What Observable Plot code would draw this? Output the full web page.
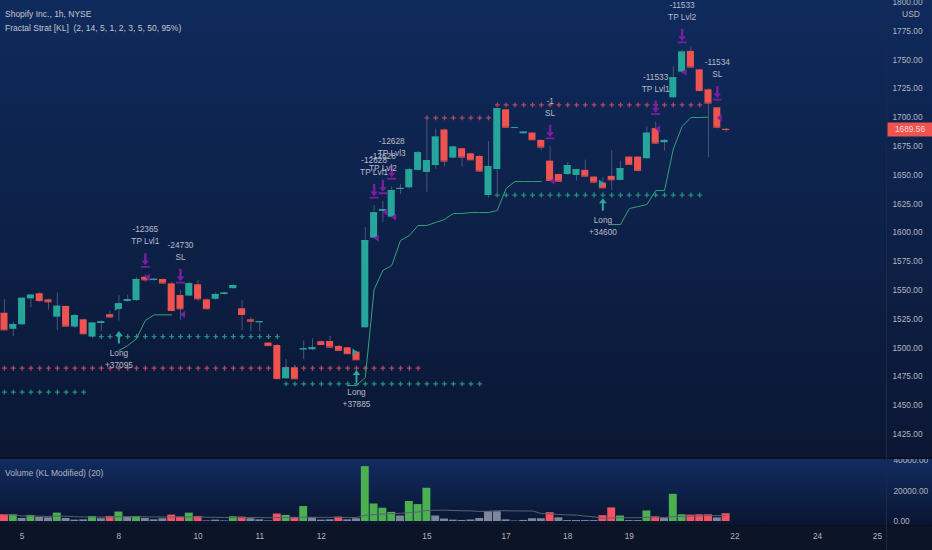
<!DOCTYPE html>
<html><head><meta charset="utf-8">
<script src="https://cdn.jsdelivr.net/npm/d3@7"></script>
<script src="https://cdn.jsdelivr.net/npm/@observablehq/plot@0.6"></script>
<style>
html,body{margin:0;padding:0;background:#0c1428;}
#wrap{position:relative;width:932px;height:550px;overflow:hidden;font-family:"Liberation Sans",Arial,sans-serif;}
.bg{position:absolute;left:0;width:932px;}
.lbl{position:absolute;white-space:pre;transform:translateY(-50%);font-size:8.5px;color:#c3c6cf;line-height:1;}
#wrap svg{position:absolute;left:0;}
</style></head>
<body><div id="wrap">
<div class="bg" style="top:0;height:457px;background:linear-gradient(#0f2a5c,#0b1734);"></div>
<div class="bg" style="top:457px;height:2px;background:#0a101e;"></div>
<div class="bg" style="top:459px;height:66px;background:linear-gradient(#112c61,#0a1530);"></div>
<div class="bg" style="top:525px;height:1px;background:#0a0f1c;"></div>
<div class="bg" style="top:526px;height:24px;background:#0c1428;"></div>
<div style="position:absolute;left:886px;top:0;width:1px;height:550px;background:#1b2848;"></div>
<div class="lbl" style="left:5px;top:13.5px;">Shopify Inc., 1h, NYSE</div>
<div class="lbl" style="left:5px;top:27.5px;">Fractal Strat [KL]  (2, 14, 5, 1, 2, 3, 5, 50, 95%)</div>
<div class="lbl" style="left:5px;top:473px;color:#b2b5be;">Volume (KL Modified) (20)</div>
<div style="position:absolute;left:898px;top:7px;width:22px;height:13px;background:#13295a;"></div>
<div class="lbl" style="left:902px;top:13.5px;color:#b2b5be;">USD</div>
</div>
<script>
// ---- Data ----
const open  = [1530.1,1516.2,1520.1,1542.6,1547.0,1541.7,1526.7,1536.0,1518.1,1524.4,1509.4,1521.2,1528.8,1533.4,1540.3,1541.1,1561.4,1558.6,1559.4,1555.6,1545.5,1545.0,1554.8,1541.7,1542.2,1546.4,1551.4,1534.0,1524.4,1521.9,1504.2,1502.1,1473.2,1482.7,1498.3,1498.4,1505.4,1505.6,1501.3,1500.1,1496.4,1517.5,1595.3,1618.5,1613.5,1637.5,1639.0,1654.1,1652.3,1658.3,1689.2,1664.8,1672.9,1668.5,1666.2,1632.3,1654.9,1706.7,1691.0,1685.9,1686.5,1680.1,1662.1,1650.5,1650.5,1649.7,1654.1,1648.3,1643.1,1648.9,1645.4,1665.6,1665.6,1664.2,1690.3,1678.1,1717.1,1739.4,1757.4,1741.3,1724.0,1708.4,1689.8];
const high  = [1542,1522.3,1543.5,1546.2,1548,1542.3,1547.6,1536.5,1529,1525,1522,1523.7,1532,1545.5,1546,1560.9,1563.5,1560,1560,1557,1549.8,1557,1558.8,1542.5,1548,1548,1555,1541,1526.5,1523.3,1504.5,1503,1490,1485,1506,1508,1506,1510,1502,1500.5,1497,1604.3,1623.6,1627.4,1640,1642,1656,1670.5,1700.9,1690,1690,1675,1673.5,1669,1667,1679,1708,1707,1691.6,1687.8,1687,1680.5,1675,1651,1661,1655,1663,1649,1648,1671.4,1662,1666,1666,1692,1696,1681,1744.3,1758.3,1761.6,1742,1725,1708.7,1690.5];
const low   = [1515.5,1509.9,1519.5,1534.8,1539.5,1533,1515,1518.5,1517,1511,1508,1514,1526,1523.3,1539.5,1540.5,1557,1557.8,1555.8,1532,1524,1544.5,1540,1533.5,1541.5,1546,1551,1515,1514,1514,1501.5,1473,1473,1473,1489.7,1497.5,1502.5,1500.5,1497.5,1494.5,1489.5,1517,1594.5,1609,1613,1633,1638,1653.5,1635.2,1655,1657,1664,1657,1662.5,1653,1630,1631.4,1691,1690.6,1685.5,1680.3,1671,1645,1644.3,1650,1645,1648.5,1643.5,1638.5,1636.7,1645,1659,1653.5,1663.5,1677,1671,1716.5,1738,1743,1723,1665,1690,1687];
const close = [1515.7,1520.3,1543.1,1545.8,1541.1,1540.0,1536.2,1518.9,1528.1,1512.3,1521.5,1522.6,1526.8,1538.3,1541.8,1559.4,1559.1,1559.6,1556.3,1532.5,1534.0,1555.7,1542.6,1534.0,1546.4,1547.6,1554.2,1529.0,1523.2,1522.8,1502.0,1473.3,1482.7,1473.2,1499.2,1500.1,1503.0,1500.7,1497.9,1495.0,1489.7,1593.2,1617.3,1620.0,1636.6,1638.5,1654.6,1669.4,1662.7,1683.0,1662.2,1674.3,1665.6,1663.3,1653.5,1657.5,1707.6,1691.6,1691.3,1687.3,1680.7,1674.3,1645.4,1644.7,1658.3,1654.7,1649.1,1643.9,1639.0,1646.0,1655.6,1659.3,1654.1,1686.4,1677.8,1680.1,1734.5,1756.8,1743.8,1723.4,1712.5,1691.6,1689.56];
const volume = [4400,4400,2000,4000,2700,2400,5500,2000,900,1100,3300,1800,3300,6200,2900,3300,2000,1100,1800,4200,2900,5500,3300,400,900,400,3100,2900,1800,1100,400,4900,4000,2700,9800,2400,900,1100,2900,1100,1800,36000,11500,8700,6000,3600,13100,11100,21800,3600,1600,900,700,1000,2000,6400,6400,1100,300,700,1800,1800,5800,2400,600,600,600,600,3800,8900,3600,600,600,6900,3100,2000,17800,4400,4200,4400,4400,2400,5100];
const volumeKind = ["r","g","n","g","n","n","g","n","n","n","g","n","r","g","n","g","n","n","n","r","r","g","r","n","n","n","g","r","n","n","n","r","g","r","g","n","n","n","r","n","n","g","g","g","g","n","g","g","g","n","n","n","n","n","n","n","n","n","n","n","n","n","r","n","n","n","n","n","r","r","g","n","n","g","r","n","g","g","r","r","r","n","r"];

const priceTicks = [1425,1450,1475,1500,1525,1550,1575,1600,1625,1650,1675,1700,1725,1750,1775,1800];
const volumeTicks = [0,20000,40000];
const dayTickIndex = [2,13,22,29,36,48,57,64,71,83,92.4,99.2];
const dayTickLabels = ["5","8","10","11","12","15","17","18","19","22","24","25"];

// fractal levels (price, first bar, last bar)
const resPrice = [1482.4,1699.7,1711.0];
const resFrom  = [0,48,56];
const resTo    = [47,55,79];
const supPrice = [1461.6,1509.9,1468.8,1632.7];
const supFrom  = [0,11,32,56];
const supTo    = [9,31,54,79];

// trailing stop segments
const stop1Start = 13, stop1 = [1497.7,1502,1508,1523.8,1528.7,1528.7,1528.7];
const stop2Start = 39, stop2 = [1467.4,1467.4,1474.3,1550.7,1567.2,1571.5,1593.2,1597.6,1606.3,1606.3,1608.9,1611.5,1616.7,1616.7,1617.5,1617.5,1617.5,1619.3,1638.4,1644.4,1644.4,1644.4,1644.4];
const stop3Start = 69, stop3 = [1607.1,1607.1,1621,1622.7,1624.5,1636.6,1636.6,1672.7,1692.2,1700,1700,1700.3];

// orders
const entryIdx = [13,40,68];
const entryQty = ["+37095","+37885","+34600"];
const entryFill = [1535.4,1496.4,1643.0];
const exitIdx = [16,20,42,43,44,62,74,77,81];
const exitQty = ["-12365","-24730","-12628","-12628","-12628","-1","-11533","-11533","-11534"];
const exitLabel = ["TP Lvl1","SL","TP Lvl1","TP Lvl2","TP Lvl3","SL","TP Lvl1","TP Lvl2","SL"];
const exitFill = [1561.4,1529.0,1595.2,1617.9,1613.5,1644.7,1690.2,1739.4,1699.7];

// ---- Build ----
const teal = "#26a69a", red = "#ef5350", wick = "#4a5575", purple = "#7a1ea1";
const font = '"Liberation Sans", Arial, sans-serif';
const xDomain = [-0.4545, 100.2273];
const candles = open.map((o,i)=>({i, o, h: high[i], l: low[i], c: close[i], col: close[i] >= o ? teal : red}));
const levelDots = [];
resPrice.forEach((p,k)=>{ for(let i=resFrom[k];i<=resTo[k];i++) levelDots.push({i,p,col:"#b4475d"}); });
supPrice.forEach((p,k)=>{ for(let i=supFrom[k];i<=supTo[k];i++) levelDots.push({i,p,col:"#22907f"}); });
const stopPts = [];
[[stop1Start,stop1],[stop2Start,stop2],[stop3Start,stop3]].forEach(([s,arr],seg)=>arr.forEach((p,k)=>stopPts.push({i:s+k,p,seg})));
const entries = entryIdx.map((i,k)=>({i, l: low[i], qty: entryQty[k], fill: entryFill[k]}));
const exits = exitIdx.map((i,k)=>({i, h: high[i], qty: exitQty[k], label: exitLabel[k], fill: exitFill[k]}));
const lastClose = close[close.length-1];

const exitArrow = {draw(ctx){
  ctx.moveTo(-4.5,0); ctx.lineTo(4.5,0); ctx.lineTo(4.5,-1.8); ctx.lineTo(-4.5,-1.8); ctx.closePath();
  ctx.moveTo(0,-2.4); ctx.lineTo(3.8,-7); ctx.lineTo(1.2,-7); ctx.lineTo(1.2,-14.5); ctx.lineTo(-1.2,-14.5); ctx.lineTo(-1.2,-7); ctx.lineTo(-3.8,-7); ctx.closePath();
}};
const entryArrow = {draw(ctx){
  ctx.moveTo(0,0); ctx.lineTo(3.8,5); ctx.lineTo(1,5); ctx.lineTo(1,12.5); ctx.lineTo(-1,12.5); ctx.lineTo(-1,5); ctx.lineTo(-3.8,5); ctx.closePath();
}};
const triLeft = {draw(ctx){ ctx.moveTo(-2.5,0); ctx.lineTo(2.5,-3.6); ctx.lineTo(2.5,3.6); ctx.closePath(); }};
const triRight = {draw(ctx){ ctx.moveTo(2.5,0); ctx.lineTo(-2.5,-3.6); ctx.lineTo(-2.5,3.6); ctx.closePath(); }};
const priceBox = {draw(ctx){ ctx.rect(-22.5,-7,45,14); }};

const style = {background:"transparent", fontFamily: font, fontSize:"8.3px", color:"#b2b5be", overflow:"hidden"};
const txt = "#b8bcc8";

const pricePlot = Plot.plot({
  width: 932, height: 457, marginLeft: 0, marginRight: 46, marginTop: 0, marginBottom: 0,
  x: {domain: xDomain, axis: null},
  y: {domain: [1404.9, 1801.56], axis: null},
  color: {type: "identity"},
  style,
  marks: [
    Plot.axisY({anchor: "right", label: null, ticks: priceTicks, tickSize: 0, tickPadding: 6, tickFormat: d => d.toFixed(2), textAnchor: "start"}),
    Plot.dot(levelDots, {x: "i", y: "p", symbol: "plus", r: 1.7, stroke: "col", strokeWidth: 1.3}),
    Plot.line(stopPts, {x: "i", y: "p", z: "seg", stroke: "#34a277", strokeWidth: 1}),
    Plot.ruleX(candles, {x: "i", y1: "l", y2: "h", stroke: wick, strokeWidth: 1}),
    Plot.rect(candles, {x1: d => d.i - 0.4, x2: d => d.i + 0.4, y1: "o", y2: "c", fill: "col"}),
    Plot.ruleY(candles, {y: "c", x1: d => d.i - 0.4, x2: d => d.i + 0.4, stroke: "col", strokeWidth: 1}),
    Plot.dot(exits, {x: "i", y: "fill", symbol: triLeft, r: 3, fill: purple, dx: 2}),
    Plot.dot(entries, {x: "i", y: "fill", symbol: triRight, r: 3, fill: teal, dx: -1.5}),
    Plot.dot(exits, {x: "i", y: "h", symbol: exitArrow, r: 4, fill: purple, dy: -7}),
    Plot.dot(entries, {x: "i", y: "l", symbol: entryArrow, r: 4, fill: "#2aa89a", dy: 10}),
    Plot.text(exits, {x: "i", y: "h", text: "qty", dy: -45, fill: txt}),
    Plot.text(exits, {x: "i", y: "h", text: "label", dy: -33, fill: txt}),
    Plot.text(entries, {x: "i", y: "l", text: () => "Long", dy: 32, fill: txt}),
    Plot.text(entries, {x: "i", y: "l", text: "qty", dy: 44, fill: txt}),
    Plot.dot([lastClose], {y: d => d, frameAnchor: "right", dx: 23.5, symbol: priceBox, r: 4, fill: "#f05350"}),
    Plot.text([lastClose], {y: d => d, frameAnchor: "right", dx: 23.5, textAnchor: "middle", text: d => d.toFixed(2), fill: "#fbdada"})
  ]
});
pricePlot.style.top = "0px";

const vols = volume.map((v,i)=>({i, v, col: volumeKind[i] === "g" ? "#4caf50" : volumeKind[i] === "r" ? "#f6525f" : "#80869a"}));
const dayLabel = new Map(dayTickIndex.map((d,k)=>[d, dayTickLabels[k]]));
const volPlot = Plot.plot({
  width: 932, height: 91, marginLeft: 0, marginRight: 46, marginTop: 0, marginBottom: 25,
  x: {domain: xDomain, axis: null},
  y: {domain: [-2623, 40656], axis: null},
  color: {type: "identity"},
  style,
  marks: [
    Plot.rect(vols, {x1: d => d.i - 0.45, x2: d => d.i + 0.45, y1: 0, y2: "v", fill: "col"}),
    Plot.lineY(vols, Plot.windowY({k: 20, anchor: "end"}, {x: "i", y: "v", stroke: "#56607c", strokeWidth: 1})),
    Plot.axisY({anchor: "right", label: null, ticks: volumeTicks, tickSize: 0, tickPadding: 7, tickFormat: d => d.toFixed(2), textAnchor: "start"}),
    Plot.axisX({label: null, ticks: dayTickIndex, tickFormat: d => dayLabel.get(d), tickSize: 0, tickPadding: 8})
  ]
});
volPlot.style.top = "459px";

const wrap = document.getElementById("wrap");
wrap.appendChild(pricePlot);
wrap.appendChild(volPlot);
</script>
</body></html>
